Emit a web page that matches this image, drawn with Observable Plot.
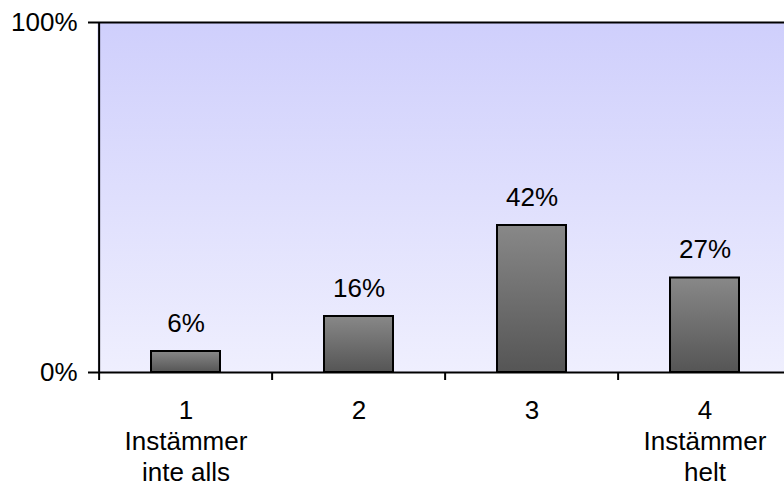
<!DOCTYPE html>
<html>
<head>
<meta charset="utf-8">
<script src="https://cdn.jsdelivr.net/npm/d3@7"></script>
<script src="https://cdn.jsdelivr.net/npm/@observablehq/plot@0.6"></script>
<style>
  body { margin: 0; background: #fff; }
</style>
</head>
<body>
<div id="chart"></div>
<script>
// Answer scale 1–4 with verbal anchors at the ends
const categories = ["1", "2", "3", "4"];
const categoryNotes = ["Instämmer\ninte alls", "", "", "Instämmer\nhelt"];
// Share of respondents per answer, percent
const shares = [6, 16, 42, 27];
const yTicks = [0, 100];

const data = categories.map((c, i) => ({category: c, share: shares[i]}));
const noteOf = new Map(categories.map((c, i) => [c, categoryNotes[i]]));

const font = "'Liberation Sans', Arial, Helvetica, sans-serif";
const fontSize = 26;
const left = 97, right = 792, width = 784;
const step = (right - left) / categories.length;

const chart = Plot.plot({
  width,
  height: 488,
  marginLeft: left,
  marginRight: width - right,
  marginTop: 22,
  marginBottom: 116,
  style: {fontFamily: font, fontSize: fontSize + "px", color: "#000", background: "#fff", overflow: "hidden"},
  x: {domain: categories, padding: 0, axis: null, label: null},
  y: {domain: [0, 100], axis: null, label: null},
  marks: [
    // plot area with its lavender gradient
    Plot.frame({fill: "url(#plotBg)", stroke: null}),
    Plot.ruleY([100], {stroke: "#000", strokeWidth: 2}),
    Plot.ruleY([0], {stroke: "#000", strokeWidth: 2}),
    // left axis line
    Plot.ruleX([categories[0]], {dx: -step / 2, y1: 0, y2: 100, stroke: "#000", strokeWidth: 2}),
    // category boundary ticks below the axis
    Plot.ruleX(categories, {x: d => d, dx: -step / 2, y1: 0, y2: 0, insetBottom: -8, stroke: "#000", strokeWidth: 2}),
    Plot.axisY({ticks: yTicks, tickSize: 9, tickPadding: 11, tickFormat: d => d + "%", fontSize, strokeWidth: 2, label: null}),
    Plot.axisX({
      tickSize: 0,
      tickPadding: 24,
      fontSize,
      lineHeight: 1.2,
      label: null,
      tickFormat: d => noteOf.get(d) ? d + "\n" + noteOf.get(d) : d
    }),
    Plot.barY(data, {
      x: "category", y: "share",
      fill: "url(#barFill)", stroke: "#000", strokeWidth: 2,
      insetLeft: 52, insetRight: 52
    }),
    Plot.text(data, {
      x: "category", y: "share",
      text: d => d.share + "%",
      lineAnchor: "bottom", dy: -20, fontSize
    })
  ]
});

const svg = chart.tagName.toLowerCase() === "svg" ? chart : chart.querySelector("svg");
d3.select(svg).insert("defs", ":first-child").html(`
  <linearGradient id="plotBg" x1="0" y1="0" x2="0" y2="1">
    <stop offset="0" stop-color="#cfcffc"/>
    <stop offset="1" stop-color="#efeffe"/>
  </linearGradient>
  <linearGradient id="barFill" x1="0" y1="0" x2="0" y2="1">
    <stop offset="0" stop-color="#888888"/>
    <stop offset="1" stop-color="#555555"/>
  </linearGradient>
`);

document.getElementById("chart").appendChild(chart);
</script>
</body>
</html>
